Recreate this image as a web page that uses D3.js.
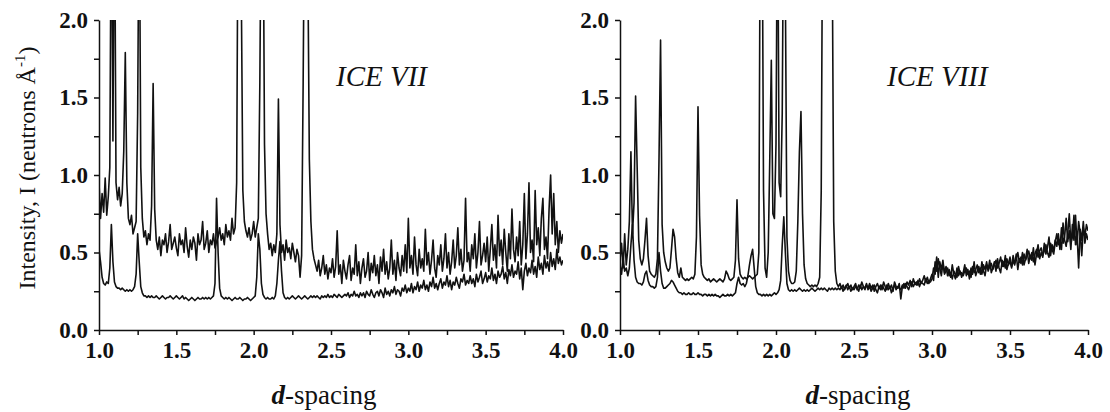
<!DOCTYPE html>
<html>
<head>
<meta charset="utf-8">
<script src="https://cdn.jsdelivr.net/npm/d3@7"></script>
<style>
  body { margin: 0; background: #fff; }
  svg { display: block; }
  .axis path, .axis line { stroke: #111; stroke-width: 1.5; }
  .trace { fill: none; stroke: #111; stroke-width: 1.6; stroke-linejoin: round; }
</style>
</head>
<body>
<div id="chart"></div>
<script>
// d-spacing grid: 1.00 .. 4.00 in steps of 0.01 (301 points)
var D_START = 1.0, D_STEP = 0.01, N_POINTS = 301;
var xTicks = [1.0, 1.5, 2.0, 2.5, 3.0, 3.5, 4.0];
var yTicks = [0.0, 0.5, 1.0, 1.5, 2.0];
var panelNames = ["ICE VII", "ICE VIII"];

// ICE VII, noisy upper trace (rows of 0.1 in d)
var ice7Upper = [
  0.95, 0.72, 0.88, 0.76, 0.98, 0.74, 0.86, 1.05, 3.00, 1.22,
  3.00, 0.95, 0.84, 0.92, 0.80, 0.88, 1.15, 1.79, 0.95, 0.72,
  0.68, 0.74, 0.62, 0.66, 0.70, 1.40, 3.00, 1.05, 0.72, 0.60,
  0.64, 0.55, 0.62, 0.58, 0.80, 1.59, 0.78, 0.58, 0.52, 0.60,
  0.48, 0.58, 0.55, 0.62, 0.50, 0.57, 0.68, 0.52, 0.56, 0.60,
  0.53, 0.48, 0.62, 0.55, 0.58, 0.50, 0.66, 0.54, 0.47, 0.58,
  0.52, 0.60, 0.56, 0.45, 0.62, 0.55, 0.58, 0.70, 0.52, 0.56,
  0.64, 0.50, 0.58, 0.55, 0.62, 0.53, 0.57, 0.60, 0.66, 0.58,
  0.62, 0.55, 0.68, 0.60, 0.64, 0.58, 0.72, 0.62, 0.66, 0.95,
  3.00, 3.00, 2.20, 0.90, 0.70, 0.64, 0.60, 0.66, 0.58, 0.62,
  0.70, 0.60, 0.66, 0.72, 1.60, 3.00, 3.00, 1.20, 0.75, 0.62,
  0.52, 0.56, 0.48, 0.55, 0.50, 0.62, 1.49, 0.68, 0.50, 0.55,
  0.45, 0.58, 0.50, 0.53, 0.46, 0.56, 0.50, 0.44, 0.52, 0.48,
  0.34, 0.48, 1.60, 3.00, 3.00, 2.40, 1.10, 0.70, 0.52, 0.46,
  0.42, 0.38, 0.45, 0.35, 0.40, 0.48, 0.36, 0.42, 0.33, 0.40,
  0.37, 0.46, 0.34, 0.41, 0.64, 0.36, 0.42, 0.30, 0.45, 0.38,
  0.33, 0.42, 0.48, 0.32, 0.40, 0.36, 0.55, 0.35, 0.44, 0.30,
  0.40, 0.46, 0.34, 0.38, 0.50, 0.32, 0.43, 0.37, 0.48, 0.35,
  0.42, 0.30, 0.47, 0.38, 0.52, 0.36, 0.44, 0.33, 0.40, 0.58,
  0.36, 0.45, 0.32, 0.50, 0.40, 0.35, 0.48, 0.38, 0.55, 0.37,
  0.72, 0.40, 0.48, 0.36, 0.60, 0.42, 0.35, 0.52, 0.40, 0.46,
  0.38, 0.65, 0.42, 0.50, 0.36, 0.45, 0.58, 0.40, 0.34, 0.48,
  0.42, 0.55, 0.38, 0.46, 0.62, 0.40, 0.50, 0.36, 0.44, 0.58,
  0.40, 0.48, 0.66, 0.42, 0.52, 0.38, 0.45, 0.85, 0.44, 0.50,
  0.38, 0.55, 0.46, 0.62, 0.40, 0.50, 0.70, 0.42, 0.48, 0.56,
  0.44, 0.60, 0.38, 0.52, 0.68, 0.45, 0.55, 0.40, 0.74, 0.48,
  0.58, 0.42, 0.65, 0.50, 0.38, 0.62, 0.46, 0.78, 0.52, 0.44,
  0.60, 0.48, 0.70, 0.42, 0.55, 0.88, 0.46, 0.62, 0.95, 0.50,
  0.58, 0.44, 0.90, 0.55, 0.66, 0.48, 0.72, 0.85, 0.52, 0.60,
  0.46, 0.78, 1.00, 0.62, 0.88, 0.55, 0.70, 0.50, 0.64, 0.56,
  0.62
];

// ICE VII, smooth lower trace
var ice7Lower = [
  0.52, 0.44, 0.34, 0.30, 0.29, 0.31, 0.30, 0.40, 0.68, 0.44,
  0.31, 0.28, 0.27, 0.27, 0.26, 0.27, 0.26, 0.25, 0.26, 0.25,
  0.26, 0.25, 0.26, 0.28, 0.36, 0.62, 0.44, 0.28, 0.24, 0.22,
  0.22, 0.21, 0.22, 0.21, 0.22, 0.21, 0.21, 0.22, 0.21, 0.20,
  0.21, 0.22, 0.21, 0.20, 0.21, 0.21, 0.22, 0.21, 0.20, 0.21,
  0.22, 0.21, 0.20, 0.21, 0.22, 0.20, 0.21, 0.20, 0.19, 0.20,
  0.21, 0.20, 0.19, 0.20, 0.21, 0.20, 0.20, 0.21, 0.20, 0.21,
  0.20, 0.21, 0.20, 0.21, 0.22, 0.30, 0.85, 0.50, 0.27, 0.22,
  0.21, 0.20, 0.21, 0.20, 0.21, 0.20, 0.19, 0.20, 0.21, 0.20,
  0.20, 0.21, 0.20, 0.19, 0.20, 0.20, 0.21, 0.20, 0.19, 0.20,
  0.21, 0.22, 0.34, 0.62, 0.52, 0.30, 0.23, 0.21, 0.20, 0.21,
  0.20, 0.20, 0.21, 0.20, 0.22, 0.30, 0.45, 0.57, 0.38, 0.24,
  0.21, 0.20, 0.21, 0.20, 0.21, 0.22, 0.21, 0.20, 0.21, 0.22,
  0.21, 0.20, 0.21, 0.22, 0.21, 0.20, 0.21, 0.22, 0.21, 0.22,
  0.21, 0.22, 0.21, 0.20, 0.22, 0.21, 0.22, 0.21, 0.23, 0.21,
  0.22, 0.21, 0.23, 0.22, 0.21, 0.23, 0.22, 0.21, 0.22, 0.23,
  0.22, 0.24, 0.21, 0.23, 0.22, 0.25, 0.22, 0.23, 0.21, 0.24,
  0.22, 0.24, 0.21, 0.25, 0.23, 0.22, 0.26, 0.23, 0.21, 0.24,
  0.25, 0.22, 0.26, 0.24, 0.21, 0.27, 0.23, 0.25, 0.22, 0.26,
  0.24, 0.28, 0.23, 0.26, 0.25, 0.22, 0.27, 0.25, 0.29, 0.24,
  0.27, 0.25, 0.30, 0.24, 0.28, 0.26, 0.31, 0.25, 0.29, 0.27,
  0.32, 0.26, 0.29, 0.25, 0.31, 0.28, 0.34, 0.27, 0.30, 0.26,
  0.30, 0.33, 0.27, 0.31, 0.29, 0.35, 0.28, 0.32, 0.26, 0.31,
  0.29, 0.34, 0.30, 0.27, 0.33, 0.31, 0.36, 0.29, 0.32, 0.30,
  0.35, 0.30, 0.33, 0.28, 0.36, 0.31, 0.34, 0.38, 0.30, 0.33,
  0.37, 0.31, 0.35, 0.33, 0.40, 0.32, 0.36, 0.30, 0.38, 0.34,
  0.36, 0.41, 0.33, 0.37, 0.30, 0.39, 0.35, 0.42, 0.34, 0.38,
  0.36, 0.44, 0.33, 0.40, 0.26, 0.38, 0.43, 0.35, 0.40, 0.37,
  0.45, 0.36, 0.41, 0.34, 0.47, 0.39, 0.43, 0.36, 0.48, 0.40,
  0.44, 0.38, 0.50, 0.41, 0.46, 0.39, 0.52, 0.43, 0.47, 0.42,
  0.45
];

// ICE VIII, upper trace
var ice8Upper = [
  0.45, 0.56, 0.40, 0.62, 0.42, 0.52, 0.70, 1.15, 0.62, 0.82,
  1.51, 1.05, 0.58, 0.46, 0.42, 0.46, 0.58, 0.72, 0.48, 0.38,
  0.36, 0.35, 0.34, 0.36, 0.46, 1.10, 1.87, 0.68, 0.50, 0.44,
  0.40, 0.38, 0.40, 0.52, 0.65, 0.60, 0.46, 0.37, 0.34, 0.40,
  0.34, 0.33, 0.32, 0.33, 0.32, 0.33, 0.34, 0.33, 0.36, 0.60,
  1.44, 0.74, 0.42, 0.36, 0.34, 0.33, 0.32, 0.33, 0.31, 0.32,
  0.33, 0.32, 0.31, 0.32, 0.33, 0.32, 0.31, 0.33, 0.38, 0.36,
  0.33, 0.32, 0.33, 0.34, 0.45, 0.84, 0.46, 0.36, 0.34, 0.33,
  0.34, 0.33, 0.34, 0.35, 0.34, 0.33, 0.34, 0.35, 0.36, 0.50,
  3.00, 3.00, 0.90, 0.40, 0.34, 0.50, 1.10, 1.74, 0.75, 0.72,
  1.20, 3.00, 0.95, 0.86, 1.40, 3.00, 2.20, 0.60, 0.38, 0.32,
  0.30, 0.30, 0.31, 0.38, 0.70, 1.15, 1.41, 0.75, 0.42, 0.33,
  0.30, 0.29, 0.28, 0.29, 0.28, 0.29, 0.28, 0.30, 0.34, 0.90,
  3.00, 3.00, 3.00, 3.00, 3.00, 3.00, 2.50, 0.70, 0.38, 0.30,
  0.28, 0.30, 0.27, 0.29, 0.26, 0.28, 0.30, 0.27, 0.29, 0.26,
  0.28, 0.30, 0.26, 0.29, 0.27, 0.31, 0.28, 0.26, 0.29, 0.27,
  0.30, 0.27, 0.29, 0.25, 0.28, 0.30, 0.27, 0.29, 0.26, 0.31,
  0.28, 0.26, 0.30, 0.27, 0.29, 0.25, 0.31, 0.28, 0.27, 0.30,
  0.20, 0.28, 0.30, 0.27, 0.31, 0.29, 0.32, 0.28, 0.33, 0.30,
  0.31, 0.29, 0.33, 0.30, 0.32, 0.35, 0.31, 0.34, 0.30, 0.33,
  0.36, 0.32, 0.44, 0.38, 0.46, 0.40, 0.35, 0.43, 0.37, 0.41,
  0.35, 0.39, 0.34, 0.42, 0.36, 0.33, 0.40, 0.35, 0.38, 0.34,
  0.37, 0.42, 0.35, 0.39, 0.33, 0.40, 0.36, 0.44, 0.35, 0.38,
  0.41, 0.36, 0.44, 0.38, 0.35, 0.42, 0.39, 0.45, 0.37, 0.40,
  0.44, 0.38, 0.46, 0.40, 0.37, 0.45, 0.41, 0.48, 0.39, 0.43,
  0.47, 0.40, 0.45, 0.42, 0.49, 0.39, 0.46, 0.43, 0.50, 0.42,
  0.46, 0.52, 0.43, 0.48, 0.45, 0.53, 0.42, 0.49, 0.55, 0.46,
  0.50, 0.47, 0.56, 0.49, 0.53, 0.60, 0.48, 0.55, 0.51, 0.58,
  0.54, 0.62, 0.52, 0.66, 0.56, 0.60, 0.72, 0.57, 0.64, 0.52,
  0.68, 0.58, 0.74, 0.55, 0.70, 0.62, 0.48, 0.66, 0.60, 0.68,
  0.64
];

// ICE VIII, lower trace
var ice8Lower = [
  0.42, 0.36, 0.46, 0.38, 0.40, 0.35, 0.40, 0.55, 0.68, 0.45,
  0.34, 0.31, 0.30, 0.30, 0.29, 0.31, 0.36, 0.38, 0.32, 0.29,
  0.28, 0.28, 0.27, 0.28, 0.34, 0.50, 0.38, 0.30, 0.27, 0.27,
  0.28, 0.29, 0.30, 0.32, 0.31, 0.29, 0.27, 0.25, 0.24, 0.24,
  0.23, 0.24, 0.23, 0.23, 0.24, 0.23, 0.23, 0.24, 0.23, 0.23,
  0.24, 0.23, 0.23, 0.22, 0.23, 0.23, 0.22, 0.23, 0.22, 0.23,
  0.22, 0.23, 0.22, 0.22, 0.21, 0.22, 0.23, 0.22, 0.22, 0.23,
  0.22, 0.23, 0.22, 0.23, 0.24, 0.30, 0.34, 0.30, 0.29, 0.30,
  0.28, 0.30, 0.35, 0.42, 0.48, 0.52, 0.40, 0.28, 0.24, 0.23,
  0.23, 0.22, 0.23, 0.22, 0.23, 0.22, 0.23, 0.22, 0.23, 0.24,
  0.23, 0.24, 0.26, 0.32, 0.55, 0.73, 0.50, 0.30, 0.26, 0.25,
  0.26, 0.25, 0.26, 0.25, 0.26, 0.27, 0.26, 0.25, 0.26, 0.25,
  0.26, 0.25, 0.26, 0.27, 0.26, 0.25, 0.26, 0.27, 0.26, 0.27,
  0.26, 0.27, 0.26, 0.25, 0.27, 0.26, 0.27, 0.26, 0.27, 0.26,
  0.27, 0.26, 0.28, 0.25, 0.27, 0.29, 0.26, 0.28, 0.25, 0.27,
  0.26, 0.28, 0.27, 0.25, 0.29, 0.26, 0.28, 0.27, 0.30, 0.26,
  0.28, 0.25, 0.27, 0.29, 0.26, 0.24, 0.28, 0.26, 0.29, 0.27,
  0.25, 0.29, 0.26, 0.28, 0.24, 0.27, 0.29, 0.26, 0.28, 0.27,
  0.26, 0.29, 0.27, 0.30, 0.28, 0.26, 0.29, 0.31, 0.28, 0.30,
  0.29, 0.32, 0.28, 0.31, 0.30, 0.29, 0.33, 0.30, 0.32, 0.31,
  0.33, 0.40, 0.36, 0.47, 0.34, 0.44, 0.39, 0.45, 0.36, 0.38,
  0.40, 0.35, 0.37, 0.33, 0.38, 0.36, 0.34, 0.41, 0.36, 0.37,
  0.35, 0.38, 0.40, 0.36, 0.38, 0.34, 0.41, 0.37, 0.39, 0.42,
  0.37, 0.40, 0.36, 0.42, 0.39, 0.44, 0.38, 0.41, 0.43, 0.39,
  0.42, 0.45, 0.40, 0.43, 0.47, 0.41, 0.44, 0.40, 0.46, 0.42,
  0.44, 0.41, 0.48, 0.43, 0.46, 0.50, 0.44, 0.47, 0.42, 0.49,
  0.45, 0.48, 0.51, 0.46, 0.50, 0.44, 0.49, 0.52, 0.47, 0.51,
  0.53, 0.48, 0.51, 0.55, 0.50, 0.47, 0.56, 0.52, 0.49, 0.57,
  0.62, 0.55, 0.58, 0.52, 0.69, 0.58, 0.54, 0.62, 0.75, 0.56,
  0.60, 0.74, 0.55, 0.62, 0.40, 0.65, 0.58, 0.70, 0.56, 0.62,
  0.58
];

var WIDTH = 1110, HEIGHT = 412;
var TOP = 20, BOTTOM = 330;
var SERIF = "'Liberation Serif'";

// layout of the two panels
var panels = [
  { name: panelNames[0], left: 99, right: 563, series: [ice7Upper, ice7Lower], labelX: 336, titleX: 324 },
  { name: panelNames[1], left: 620, right: 1088, series: [ice8Upper, ice8Lower], labelX: 887, titleX: 858 }
];

var dValues = d3.range(N_POINTS).map(function(i) { return +(D_START + i * D_STEP).toFixed(2); });

var svg = d3.select('#chart')
    .append('svg')
    .attr('width', WIDTH)
    .attr('height', HEIGHT);

var yScale = d3.scaleLinear().domain([0, 2]).range([BOTTOM, TOP]);

function fmt(v) {
    // label only the 0.5 steps
    var hit = xTicks.concat(yTicks).some(function(t) { return Math.abs(t - v) < 1e-6; });
    return hit ? d3.format('.1f')(v) : '';
}

function styleTicks(sel) {
    sel.selectAll('text')
        .style('font-family', SERIF)
        .style('font-weight', 'bold')
        .style('font-size', '23px')
        .style('fill', '#111');
}

panels.forEach(function(p, pi) {
    var xScale = d3.scaleLinear().domain([1, 4]).range([p.left, p.right]);
    var g = svg.append('g');

    g.append('clipPath')
        .attr('id', 'clip' + pi)
        .append('rect')
        .attr('x', p.left)
        .attr('y', TOP)
        .attr('width', p.right - p.left)
        .attr('height', BOTTOM - TOP);

    var line = d3.line()
        .x(function(d, i) { return xScale(dValues[i]); })
        .y(function(d) { return yScale(d); });

    p.series.forEach(function(s) {
        g.append('path')
            .attr('class', 'trace')
            .attr('clip-path', 'url(#clip' + pi + ')')
            .attr('d', line(s));
    });

    var xAxis = d3.axisBottom(xScale)
        .tickValues(d3.range(1, 4.001, 0.25))
        .tickFormat(fmt)
        .tickSize(5)
        .tickSizeOuter(0)
        .tickPadding(7);
    g.append('g')
        .attr('class', 'axis')
        .attr('transform', 'translate(0,' + BOTTOM + ')')
        .call(xAxis)
        .call(styleTicks);

    var yAxis = d3.axisLeft(yScale)
        .tickValues(d3.range(0, 2.001, 0.25))
        .tickFormat(fmt)
        .tickSize(5)
        .tickSizeOuter(0)
        .tickPadding(6);
    g.append('g')
        .attr('class', 'axis')
        .attr('transform', 'translate(' + p.left + ',0)')
        .call(yAxis)
        .call(styleTicks);

    // panel label
    g.append('text')
        .attr('x', p.labelX)
        .attr('y', 86)
        .style('font-family', SERIF)
        .style('font-style', 'italic')
        .style('font-size', '29px')
        .style('fill', '#111')
        .text(p.name);

    // x title
    var xt = g.append('text')
        .attr('x', p.titleX)
        .attr('y', 404)
        .attr('text-anchor', 'middle')
        .style('font-family', SERIF)
        .style('font-size', '27px')
        .style('fill', '#111');
    xt.append('tspan').style('font-style', 'italic').style('font-weight', 'bold').text('d');
    xt.append('tspan').text('-spacing');
});

// y title
var yt = svg.append('text')
    .attr('transform', 'translate(35,168) rotate(-90)')
    .attr('text-anchor', 'middle')
    .style('font-family', SERIF)
    .style('font-size', '24px')
    .style('fill', '#111');
yt.append('tspan').text('Intensity, I (neutrons Å');
yt.append('tspan').attr('dy', -10).style('font-size', '15px').text('-1');
yt.append('tspan').attr('dy', 10).text(')');
</script>
</body>
</html>
